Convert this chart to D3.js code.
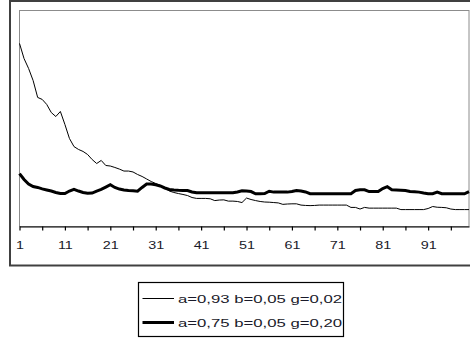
<!DOCTYPE html>
<html>
<head>
<meta charset="utf-8">
<script src="https://cdn.jsdelivr.net/npm/d3@7"></script>
<style>
  body { margin: 0; background: #fff; }
  svg { display: block; font-family: "Liberation Sans", Arial, sans-serif; }
</style>
</head>
<body>
<svg id="chart" width="470" height="342"></svg>
<script>
// Periods 1..100 on the horizontal axis
const periods = d3.range(1, 101);

// Series: a=0,93 b=0,05 g=0,02 (thin line)
const seriesThin = [
  10.17, 9.33, 8.78, 8.11, 7.17, 7.06, 6.78, 6.33, 6.11, 6.39,
  5.67, 4.89, 4.44, 4.28, 4.17, 4.00, 3.72, 3.50, 3.67, 3.39,
  3.36, 3.28, 3.19, 3.08, 3.08, 3.03, 2.89, 2.78, 2.64, 2.50,
  2.39, 2.28, 2.14, 1.97, 1.89, 1.83, 1.78, 1.72, 1.61, 1.56,
  1.56, 1.56, 1.54, 1.44, 1.47, 1.48, 1.41, 1.41, 1.39, 1.33,
  1.58, 1.50, 1.44, 1.39, 1.36, 1.35, 1.33, 1.31, 1.23, 1.25,
  1.26, 1.26, 1.19, 1.17, 1.16, 1.17, 1.19, 1.19, 1.19, 1.19,
  1.19, 1.19, 1.19, 1.06, 1.06, 0.97, 1.06, 1.02, 1.02, 1.02,
  1.02, 1.02, 1.02, 1.02, 0.94, 0.94, 0.94, 0.94, 0.94, 0.94,
  1.00, 1.11, 1.07, 1.06, 1.04, 0.97, 0.94, 0.94, 0.94, 0.94
];

// Series: a=0,75 b=0,05 g=0,20 (thick line)
const seriesThick = [
  2.94, 2.61, 2.36, 2.22, 2.17, 2.09, 2.03, 1.97, 1.89, 1.83,
  1.83, 1.97, 2.06, 1.97, 1.89, 1.85, 1.86, 1.97, 2.06, 2.19,
  2.32, 2.17, 2.08, 2.03, 2.00, 1.98, 1.96, 2.17, 2.36, 2.36,
  2.32, 2.25, 2.14, 2.06, 2.03, 2.01, 2.00, 2.00, 1.92, 1.87,
  1.87, 1.87, 1.87, 1.87, 1.87, 1.87, 1.87, 1.87, 1.92, 1.98,
  1.97, 1.94, 1.82, 1.82, 1.83, 1.96, 1.91, 1.91, 1.91, 1.91,
  1.94, 2.00, 1.97, 1.92, 1.82, 1.82, 1.82, 1.82, 1.82, 1.82,
  1.82, 1.82, 1.82, 1.82, 2.00, 2.04, 2.04, 1.94, 1.94, 1.94,
  2.11, 2.21, 2.04, 2.03, 2.02, 2.00, 1.94, 1.93, 1.91, 1.86,
  1.82, 1.82, 1.91, 1.82, 1.82, 1.82, 1.82, 1.82, 1.82, 1.94
];

// Tick marks every 5 periods, labels every 10
const tickValues = d3.range(1, 100, 5);
const tickLabels = ["1", "11", "21", "31", "41", "51", "61", "71", "81", "91"];

const legendLabels = ["a=0,93 b=0,05 g=0,02", "a=0,75 b=0,05 g=0,20"];
const legendWidths = [1, 3];

const svg = d3.select("#chart");

// Outer chart frame
svg.append("rect")
  .attr("x", 10).attr("y", 1)
  .attr("width", 470).attr("height", 264.5)
  .attr("fill", "#fff")
  .attr("stroke", "#404040")
  .attr("stroke-width", 2);

const plot = { left: 19.5, top: 10.5, right: 469, bottom: 226.5 };

const x = d3.scaleLinear().domain([1, 100]).range([plot.left, plot.right]);
const y = d3.scaleLinear().domain([0, 12]).range([plot.bottom, plot.top]);

// Plot area border
svg.append("rect")
  .attr("x", plot.left).attr("y", plot.top)
  .attr("width", plot.right - plot.left)
  .attr("height", plot.bottom - plot.top)
  .attr("fill", "#fff")
  .attr("stroke", "#8c8c8c")
  .attr("stroke-width", 1);

// Horizontal axis
const xAxis = d3.axisBottom(x)
  .tickValues(tickValues)
  .tickSize(4)
  .tickSizeOuter(0)
  .tickFormat(d => tickLabels.includes(String(d)) ? String(d) : "");

const gx = svg.append("g")
  .attr("transform", `translate(0,${plot.bottom})`)
  .call(xAxis);
gx.select(".domain").attr("stroke", "#000").attr("stroke-width", 1);
gx.selectAll(".tick line").attr("stroke", "#000").attr("stroke-width", 1.2);
gx.selectAll(".tick text")
  .attr("y", 14)
  .attr("dy", "0.71em")
  .attr("transform", "scale(1.25,1)")
  .attr("font-size", 11.5)
  .attr("font-family", "'Liberation Sans', Arial, sans-serif")
  .attr("fill", "#1a1a2a");

const line = d3.line()
  .x((d, i) => x(periods[i]))
  .y(d => y(d));

svg.append("path")
  .datum(seriesThin)
  .attr("fill", "none")
  .attr("stroke", "#000")
  .attr("stroke-width", 1)
  .attr("d", line);

svg.append("path")
  .datum(seriesThick)
  .attr("fill", "none")
  .attr("stroke", "#000")
  .attr("stroke-width", 3)
  .attr("stroke-linejoin", "miter")
  .attr("d", line);

// Legend
const legend = svg.append("g");
legend.append("rect")
  .attr("x", 138.5).attr("y", 282.5)
  .attr("width", 205).attr("height", 54)
  .attr("fill", "#fff")
  .attr("stroke", "#000")
  .attr("stroke-width", 1.2);

legendLabels.forEach((label, i) => {
  const cy = 298.5 + i * 24;
  legend.append("line")
    .attr("x1", 142.5).attr("x2", 174)
    .attr("y1", cy).attr("y2", cy)
    .attr("stroke", "#000")
    .attr("stroke-width", legendWidths[i]);
  legend.append("text")
    .attr("x", 178).attr("y", cy + 4)
    .attr("font-size", 11.5)
    .attr("textLength", 164)
    .attr("lengthAdjust", "spacingAndGlyphs")
    .attr("fill", "#1a1a2a")
    .text(label);
});
</script>
</body>
</html>
